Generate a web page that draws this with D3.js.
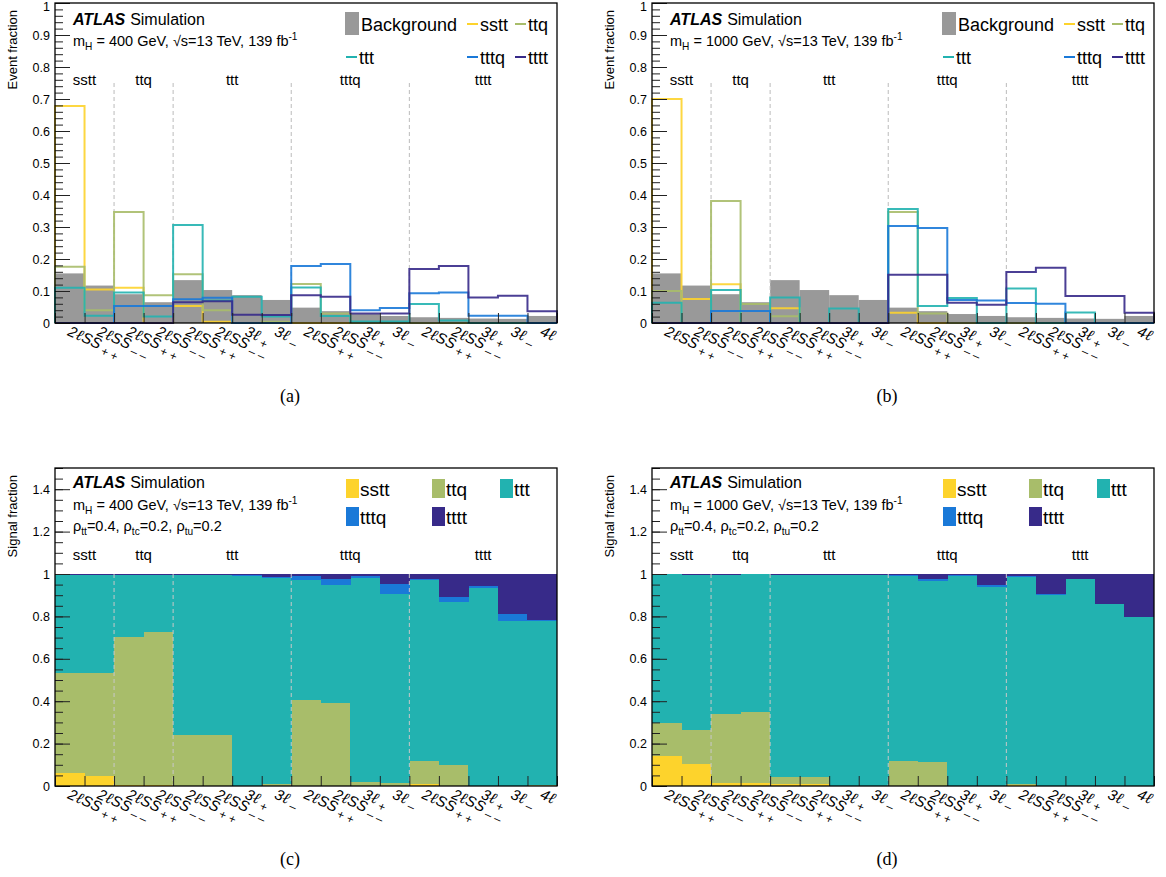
<!DOCTYPE html>
<html>
<head>
<meta charset="utf-8">
<script src="https://cdnjs.cloudflare.com/ajax/libs/d3/7.8.5/d3.min.js"></script>
<style>
  body { margin: 0; background: #fff; }
  svg text { font-family: "Liberation Sans", Arial, Helvetica, sans-serif; fill: #000; }
</style>
</head>
<body>
<div id="chart"></div>
<script>
// ---- data ----
var nBins = 17;
var binBase   = ["2ℓSS","2ℓSS","2ℓSS","2ℓSS","2ℓSS","2ℓSS","3ℓ","3ℓ","2ℓSS","2ℓSS","3ℓ","3ℓ","2ℓSS","2ℓSS","3ℓ","3ℓ","4ℓ"];
var binCharge = ["+ +","– –","+ +","– –","+ +","– –","+","–","+ +","– –","+","–","+ +","– –","+","–",""];
var channels = ["sstt","ttq","ttt","tttq","tttt"];
var channelEdges = [0, 2, 4, 8, 12, 17];
var processes = ["sstt","ttq","ttt","tttq","tttt"];

var yTicksEvent = [0,0.1,0.2,0.3,0.4,0.5,0.6,0.7,0.8,0.9,1];
var yTicksSignal = [0,0.2,0.4,0.6,0.8,1,1.2,1.4];

// event fractions, same background for both masses
var background = [0.155,0.117,0.090,0.065,0.134,0.103,0.087,0.072,0.048,0.037,0.028,0.022,0.018,0.016,0.014,0.013,0.022];

// mH = 400 GeV
var sstt400 = [0.678,0.105,0.110,0,0.053,0.004,0,0,0,0,0,0,0,0,0,0,0];
var ttq400  = [0.176,0.040,0.347,0.087,0.152,0.040,0,0.004,0.122,0.030,0,0,0,0,0,0,0];
var ttt400  = [0.110,0.023,0.095,0.020,0.306,0.070,0.082,0.020,0.111,0.022,0.005,0.005,0.059,0.008,0,0,0];
var tttq400 = [0,0,0.053,0.053,0.074,0.079,0,0,0.178,0.184,0.040,0.047,0.093,0.095,0.023,0.023,0];
var tttt400 = [0,0,0,0,0.065,0.068,0.026,0.025,0.087,0.082,0.030,0.030,0.169,0.178,0.080,0.085,0.037];

// mH = 1000 GeV
var sstt1000 = [0.700,0.075,0.121,0,0.046,0,0,0,0.032,0,0,0,0,0,0,0,0];
var ttq1000  = [0.100,0,0.381,0.059,0.021,0,0,0,0.347,0.030,0,0,0,0,0,0,0];
var ttt1000  = [0.063,0,0.103,0,0.080,0,0.045,0,0.356,0.053,0.078,0,0.108,0,0.033,0,0];
var tttq1000 = [0,0,0.0375,0.0375,0,0,0,0,0.303,0.297,0.072,0.070,0.0625,0.060,0,0,0];
var tttt1000 = [0,0,0,0,0,0,0,0,0.151,0.151,0.063,0.057,0.159,0.173,0.084,0.084,0.032];

// signal fractions (stacked), mH = 400 GeV
var fsstt400 = [0.060,0.045,0.005,0.003,0,0,0,0,0,0,0,0,0.010,0,0,0,0];
var fttq400  = [0.473,0.490,0.698,0.723,0.240,0.240,0,0.010,0.405,0.390,0.020,0.015,0.110,0.100,0,0,0.005];
var fttt400  = [0.462,0.460,0.292,0.268,0.755,0.753,0.990,0.970,0.565,0.560,0.960,0.890,0.850,0.770,0.935,0.780,0.775];
var ftttq400 = [0.002,0.002,0.002,0.003,0.002,0.002,0.003,0.005,0.020,0.025,0.010,0.050,0.005,0.020,0.010,0.030,0.005];
var ftttt400 = [0.003,0.003,0.003,0.003,0.003,0.005,0.007,0.015,0.010,0.025,0.010,0.045,0.025,0.110,0.055,0.190,0.215];

// signal fractions (stacked), mH = 1000 GeV
var fsstt1000 = [0.143,0.104,0.016,0.012,0.010,0.008,0,0,0,0,0,0,0.005,0,0,0,0];
var fttq1000  = [0.154,0.160,0.324,0.337,0.031,0.033,0,0,0.116,0.115,0,0,0.005,0,0,0,0];
var fttt1000  = [0.703,0.733,0.657,0.649,0.956,0.956,0.995,0.995,0.874,0.850,0.990,0.940,0.975,0.900,0.975,0.857,0.797];
var ftttq1000 = [0,0,0,0,0,0,0,0,0.005,0.010,0.005,0.010,0.005,0.005,0,0,0];
var ftttt1000 = [0,0.003,0.003,0.002,0.003,0.003,0.005,0.005,0.005,0.025,0.005,0.050,0.010,0.095,0.025,0.143,0.203];

// ---- styles ----
var colors = { sstt: "#fdd32c", ttq: "#a8bd6a", ttt: "#22b2b0", tttq: "#1a79d8", tttt: "#372a89" };
var bgColor = "#999999";

var W = 1166, H = 877;
var svg = d3.select("#chart").append("svg").attr("width", W).attr("height", H);

function richText(g, x, y, parts, size) {
  // parts: [text, mode] with mode "", "sub", "sup"
  var t = g.append("text").attr("x", x).attr("y", y).style("font-size", size + "px");
  var off = 0;
  parts.forEach(function(p) {
    var target = p[1] === "sub" ? size * 0.3 : (p[1] === "sup" ? -size * 0.4 : 0);
    var s = t.append("tspan").text(p[0]).attr("dy", target - off);
    if (p[1]) s.style("font-size", (size * 0.7) + "px");
    off = target;
  });
  return t;
}

function drawFrame(g, p, x, y, yMajor, yMinor) {
  var fmt = function(d) { return String(+d.toFixed(2)); };
  var ya = g.append("g").attr("transform", "translate(" + p.left + ",0)")
    .call(d3.axisLeft(y).tickValues(yMajor).tickSize(-15).tickPadding(5).tickFormat(fmt));
  ya.select(".domain").remove();
  ya.selectAll("text").style("font-size", "12.5px").style("font-family", "Liberation Sans, Arial, sans-serif");
  // keep the top label inside the page
  ya.selectAll("text").filter(function(d) { return y(d) < 8; }).attr("dy", "0.6em");
  ya.selectAll("line").attr("stroke", "#222");
  var ym = g.append("g").attr("transform", "translate(" + p.left + ",0)")
    .call(d3.axisLeft(y).tickValues(yMinor).tickSize(-8).tickFormat(""));
  ym.select(".domain").remove();
  ym.selectAll("line").attr("stroke", "#222");

  var xa = g.append("g").attr("transform", "translate(0," + p.bottom + ")")
    .call(d3.axisBottom(x).tickValues(d3.range(0, nBins + 1)).tickSize(-10).tickFormat(""));
  xa.select(".domain").remove();
  xa.selectAll("line").attr("stroke", "#222");

  g.append("rect").attr("x", p.left).attr("y", p.top)
    .attr("width", p.right - p.left).attr("height", p.bottom - p.top)
    .attr("fill", "none").attr("stroke", "#000").attr("stroke-width", 1.3);

  // bin labels: digit, script ell, rest, then lowered charges
  for (var i = 0; i < nBins; i++) {
    var bits = binBase[i].split("ℓ");
    var t = g.append("text")
      .attr("transform", "translate(" + (x(i + 0.5) - 3) + "," + (p.bottom + 12) + ") rotate(24)")
      .style("font-size", "15px");
    t.append("tspan").text(bits[0]).style("font-style", "italic");
    t.append("tspan").text("ℓ").style("font-family", "DejaVu Serif, serif").style("font-style", "italic").style("font-size", "16px");
    if (bits[1]) t.append("tspan").text(bits[1]).style("font-style", "italic");
    if (binCharge[i]) t.append("tspan").text(binCharge[i]).attr("dx", 3).attr("dy", 4).style("font-size", "12px");
  }

  // y title
  g.append("text").attr("transform", "translate(" + (p.left - 38) + "," + (p.top + 7) + ") rotate(-90)")
    .attr("text-anchor", "end").style("font-size", "13px").text(p.yTitle);

  // caption
  g.append("text").attr("x", (p.left + p.right) / 2 - 16).attr("y", p.captionY)
    .attr("text-anchor", "middle").style("font-size", "18px")
    .style("font-family", "Liberation Serif, Times New Roman, serif").text(p.caption);
}

function drawHeader(g, p, lines) {
  var t = g.append("text").attr("x", p.left + 18).attr("y", p.top + p.headY[0]).style("font-size", "16px");
  t.append("tspan").text("ATLAS").style("font-weight", "bold").style("font-style", "italic");
  t.append("tspan").text("Simulation").attr("dx", 5);
  lines.forEach(function(parts, k) {
    richText(g, p.left + 18, p.top + p.headY[k + 1], parts, 14.5);
  });
}

function drawChannels(g, p, x, y, yLab, yDashTop, dashColor) {
  channelEdges.slice(1, -1).forEach(function(e) {
    g.append("line").attr("x1", x(e)).attr("x2", x(e)).attr("y1", y(yDashTop)).attr("y2", y(0))
      .attr("stroke", dashColor).attr("stroke-width", 1).attr("stroke-dasharray", "4,3");
  });
  channels.forEach(function(c, k) {
    g.append("text").attr("x", x((channelEdges[k] + channelEdges[k + 1]) / 2)).attr("y", y(yLab))
      .attr("text-anchor", "middle").style("font-size", "15px").text(c);
  });
}

function eventPanel(p) {
  var g = svg.append("g");
  var x = d3.scaleLinear().domain([0, nBins]).range([p.left, p.right]);
  var y = d3.scaleLinear().domain([0, 1]).range([p.bottom, p.top]);
  var bw = x(1) - x(0);

  g.selectAll("rect.bg").data(background).join("rect").attr("class", "bg")
    .attr("x", function(d, i) { return x(i); }).attr("width", bw)
    .attr("y", function(d) { return y(d); }).attr("height", function(d) { return y(0) - y(d); })
    .attr("fill", bgColor);

  drawChannels(g, p, x, y, 0.745, 0.75, "#bbbbbb");

  var line = d3.line().x(function(d) { return x(d[0]); }).y(function(d) { return y(d[1]); });
  processes.forEach(function(name) {
    var pts = [[0, 0]];
    p.series[name].forEach(function(v, i) { pts.push([i, v]); pts.push([i + 1, v]); });
    pts.push([nBins, 0]);
    g.append("path").attr("d", line(pts)).attr("fill", "none")
      .attr("stroke", colors[name]).attr("stroke-width", 2).attr("stroke-opacity", 0.9);
  });

  drawFrame(g, p, x, y, yTicksEvent, d3.range(0, 1.001, 0.02).map(function(v) { return +v.toFixed(2); }));
  drawHeader(g, p, p.header);

  // legend
  var rows = [[["box", "Background", 290], ["line", "sstt", 412], ["line", "ttq", 460]],
              [["line", "ttt", 291], ["line", "tttq", 412], ["line", "tttt", 460]]];
  var rowY = [24, 57];
  rows.forEach(function(r, ri) {
    r.forEach(function(e) {
      var lx = p.left + e[2], ly = p.top + rowY[ri] - 3;
      if (e[0] === "box") {
        g.append("rect").attr("x", lx).attr("y", ly - 12).attr("width", 14).attr("height", 23).attr("fill", bgColor);
        g.append("text").attr("x", lx + 16).attr("y", ly + 6.5).style("font-size", "18px").text(e[1]);
      } else {
        g.append("line").attr("x1", lx).attr("x2", lx + 11).attr("y1", ly).attr("y2", ly)
          .attr("stroke", colors[e[1]]).attr("stroke-width", 2);
        g.append("text").attr("x", lx + 13).attr("y", ly + 6.5).style("font-size", "18px").text(e[1]);
      }
    });
  });
}

function signalPanel(p) {
  var g = svg.append("g");
  var x = d3.scaleLinear().domain([0, nBins]).range([p.left, p.right]);
  var y = d3.scaleLinear().domain([0, 1.5]).range([p.bottom, p.top]);
  var bw = x(1) - x(0);

  var rows = d3.range(nBins).map(function(i) {
    var o = { bin: i };
    processes.forEach(function(n) { o[n] = p.series[n][i]; });
    return o;
  });
  var stacked = d3.stack().keys(processes)(rows);
  g.selectAll("g.layer").data(stacked).join("g").attr("class", "layer")
    .attr("fill", function(d) { return colors[d.key]; })
    .selectAll("rect").data(function(d) { return d; }).join("rect")
    .attr("x", function(d) { return x(d.data.bin); }).attr("width", bw + 0.3)
    .attr("y", function(d) { return y(d[1]); })
    .attr("height", function(d) { return Math.max(0, y(d[0]) - y(d[1])); })
    .attr("shape-rendering", "crispEdges");

  drawChannels(g, p, x, y, 1.065, 1.0, "#c8c8c8");
  drawFrame(g, p, x, y, yTicksSignal, d3.range(0, 1.501, 0.05).map(function(v) { return +v.toFixed(2); }));
  drawHeader(g, p, p.header);

  var leg = [["sstt", 291, 0], ["ttq", 377, 0], ["ttt", 445, 0], ["tttq", 291, 1], ["tttt", 377, 1]];
  var rowY = [21, 49];
  leg.forEach(function(e) {
    var lx = p.left + e[1], ly = p.top + rowY[e[2]];
    g.append("rect").attr("x", lx).attr("y", ly - 10).attr("width", 13).attr("height", 19).attr("fill", colors[e[0]]);
    g.append("text").attr("x", lx + 14).attr("y", ly + 7).style("font-size", "19px").text(e[0]);
  });
}

function massLine(m) {
  return [["m", ""], ["H", "sub"], [" = " + m + " GeV, √s=13 TeV, 139 fb", ""], ["-1", "sup"]];
}
var rhoLine = [["ρ", ""], ["tt", "sub"], ["=0.4, ρ", ""], ["tc", "sub"], ["=0.2, ρ", ""], ["tu", "sub"], ["=0.2", ""]];

eventPanel({ left: 55, right: 557, top: 3, bottom: 323, yTitle: "Event fraction", caption: "(a)", captionY: 402,
  headY: [22, 43], header: [massLine(400)],
  series: { sstt: sstt400, ttq: ttq400, ttt: ttt400, tttq: tttq400, tttt: tttt400 } });
eventPanel({ left: 652, right: 1154, top: 3, bottom: 323, yTitle: "Event fraction", caption: "(b)", captionY: 402,
  headY: [22, 43], header: [massLine(1000)],
  series: { sstt: sstt1000, ttq: ttq1000, ttt: ttt1000, tttq: tttq1000, tttt: tttt1000 } });
signalPanel({ left: 55, right: 557, top: 468, bottom: 786, yTitle: "Signal fraction", caption: "(c)", captionY: 865,
  headY: [20, 42, 63], header: [massLine(400), rhoLine],
  series: { sstt: fsstt400, ttq: fttq400, ttt: fttt400, tttq: ftttq400, tttt: ftttt400 } });
signalPanel({ left: 652, right: 1154, top: 468, bottom: 786, yTitle: "Signal fraction", caption: "(d)", captionY: 865,
  headY: [20, 42, 63], header: [massLine(1000), rhoLine],
  series: { sstt: fsstt1000, ttq: fttq1000, ttt: fttt1000, tttq: ftttq1000, tttt: ftttt1000 } });
</script>
</body>
</html>
